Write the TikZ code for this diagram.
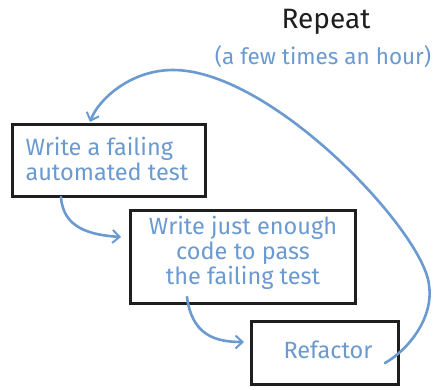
\documentclass[tikz,border=0pt]{standalone}
\usepackage{fontspec}
\setmainfont{Fira Sans}
\usetikzlibrary{arrows.meta}
\definecolor{pen}{HTML}{6A9AD0}
\definecolor{ink}{HTML}{1E1E1E}
\tikzset{
  stepbox/.style={draw=ink, line width=3pt, rectangle, inner sep=0pt},
  steptext/.style={text=pen, font=\fontsize{23.5}{25}\selectfont, align=center},
  flow/.style={draw=pen, line width=2.6pt, line cap=round,
    -{Straight Barb[length=7pt,width=13pt,line width=2pt]}}
}
\begin{document}
\begin{tikzpicture}[x=1pt,y=-1pt]
  \useasboundingbox (0,0) rectangle (437,389);
  \fill[white] (0,0) rectangle (437,389);

  % the three steps of the cycle
  \node[stepbox, minimum width=193pt, minimum height=72pt] (write) at (108.5,160) {};
  \node[steptext, align=left, anchor=west] (writetxt) at (22,159) {Write a failing\\automated test};

  \node[stepbox, minimum width=225pt, minimum height=93pt] (pass) at (242.5,256.5) {};
  \node[steptext] (passtxt) at (243,253) {Write just enough\\code to pass\\the failing test};

  \node[stepbox, minimum width=147pt, minimum height=63pt] (refactor) at (324.5,352.5) {};
  \node[steptext] (refactortxt) at (328,350) {Refactor};

  % caption of the loop
  \node[font=\fontsize{28}{30}\selectfont, text=ink] (repeat) at (326,22) {Repeat};
  \node[font=\fontsize{22.5}{24}\selectfont, text=pen] (often) at (323,57) {(a few times an hour)};

  % forward arrows between steps
  \coordinate (wout) at (61,197);
  \coordinate (pin) at (121,237);
  \draw[flow] (wout) .. controls (63,228) and (90,235) .. (pin);
  \coordinate (pout) at (187,297);
  \coordinate (rin) at (244,342);
  \draw[flow] (pout) .. controls (192,335) and (215,342) .. (rin);

  % loop back from refactoring to the first step
  \coordinate (rstart) at (385,363);
  \coordinate (rside) at (429,285);
  \coordinate (rtop) at (173,70);
  \coordinate (wtop) at (90,122);
  \draw[flow] (rstart) .. controls (408,350) and (434,318) .. (rside)
    .. controls (424,232) and (272,70) .. (rtop)
    .. controls (130,70) and (98,100) .. (wtop);
\end{tikzpicture}
\end{document}
